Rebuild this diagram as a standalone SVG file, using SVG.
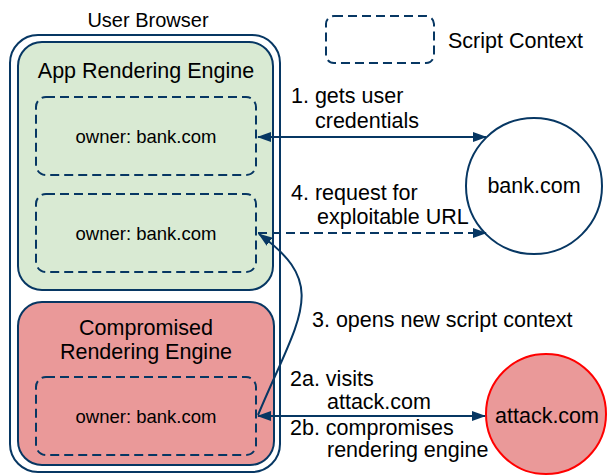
<svg xmlns="http://www.w3.org/2000/svg" width="607" height="475" viewBox="0 0 607 475">
<defs>
<marker id="ah" viewBox="0 0 14 10" refX="13" refY="5" markerWidth="14" markerHeight="10" markerUnits="userSpaceOnUse" orient="auto-start-reverse">
<path d="M0,0 L14,5 L0,10 z" fill="#073763"/>
</marker>
<style>
text{font-family:"Liberation Sans",Arial,sans-serif;fill:#000;}
.t{font-size:21.5px;}
.o{font-size:18.5px;}
.box{stroke:#073763;stroke-width:2;}
.dash{fill:none;stroke:#073763;stroke-width:2;stroke-dasharray:9 5;}
.ln{fill:none;stroke:#073763;stroke-width:2;}
</style>
</defs>
<rect width="607" height="475" fill="#fff"/>
<g id="browser">
<rect x="10" y="35" width="270" height="437" rx="28" fill="#fff" class="box"/>
<text x="148" y="27" font-size="20" text-anchor="middle">User Browser</text>
</g>
<g id="app-engine">
<rect x="18" y="42" width="255" height="248" rx="24" fill="#d9ead3" class="box"/>
<text x="146" y="78" class="t" text-anchor="middle">App Rendering Engine</text>
</g>
<g id="ctx1">
<rect x="36" y="97" width="220" height="78" rx="10" class="dash"/>
<text x="146" y="143" class="o" text-anchor="middle">owner: bank.com</text>
</g>
<g id="ctx2">
<rect x="36" y="194" width="220" height="78" rx="10" class="dash"/>
<text x="146" y="240" class="o" text-anchor="middle">owner: bank.com</text>
</g>
<g id="comp-engine">
<rect x="18" y="302" width="256" height="163" rx="24" fill="#ea9999" class="box"/>
<text x="146" y="335" class="t" text-anchor="middle">Compromised</text>
<text x="146" y="359" class="t" text-anchor="middle">Rendering Engine</text>
</g>
<g id="ctx3">
<rect x="36" y="377" width="220" height="78" rx="10" class="dash"/>
<text x="146" y="423" class="o" text-anchor="middle">owner: bank.com</text>
</g>
<g id="legend">
<rect x="326" y="16" width="108" height="47" rx="8" class="dash"/>
<text x="448" y="48" class="t">Script Context</text>
</g>
<g id="bank">
<circle cx="534" cy="186" r="68" fill="#fff" class="box"/>
<text x="534" y="193" class="t" text-anchor="middle">bank.com</text>
</g>
<g id="attack">
<circle cx="546" cy="414" r="60" fill="#ea9999" stroke="#ff0000" stroke-width="2"/>
<text x="547" y="423" class="t" text-anchor="middle">attack.com</text>
</g>
<g id="connectors">
<line x1="258" y1="137" x2="486" y2="137" class="ln" marker-start="url(#ah)" marker-end="url(#ah)"/>
<line x1="258" y1="233" x2="486" y2="233" class="dash" marker-end="url(#ah)"/>
<line x1="258" y1="416" x2="485" y2="416" class="ln" marker-start="url(#ah)" marker-end="url(#ah)"/>
<path d="M258,415 C300,315 330,285 259,234" class="ln" marker-end="url(#ah)"/>
</g>
<g id="labels">
<text x="291" y="103" class="t">1. gets user</text>
<text x="315" y="128" class="t">credentials</text>
<text x="291" y="200" class="t">4. request for</text>
<text x="317" y="224" class="t">exploitable URL</text>
<text x="312" y="327" class="t">3. opens new script context</text>
<text x="290" y="386" class="t">2a. visits</text>
<text x="327" y="409" class="t">attack.com</text>
<text x="290" y="435" class="t">2b. compromises</text>
<text x="327" y="457" class="t">rendering engine</text>
</g>
</svg>
